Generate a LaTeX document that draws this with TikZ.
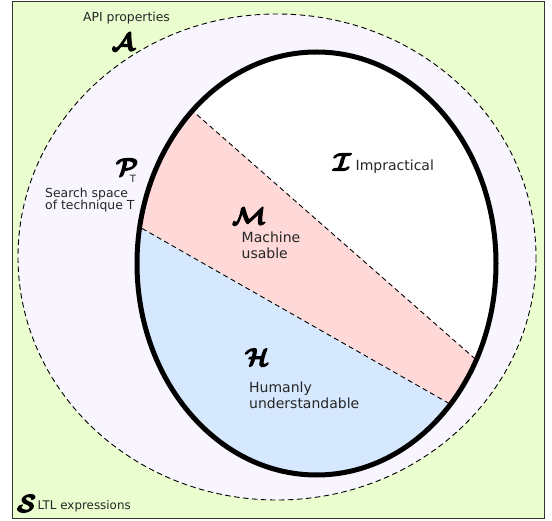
\documentclass[tikz,border=0pt]{standalone}
\usepackage{fontspec}
\usepackage{amsmath}
\usepackage{bm}
\usetikzlibrary{calc}
\setmainfont{DejaVu Sans}
\definecolor{spacegreen}{HTML}{E9FDCF}
\definecolor{apilav}{HTML}{F9F5FE}
\definecolor{machpink}{HTML}{FFD8D8}
\definecolor{humblue}{HTML}{D6E8FD}
\definecolor{framegray}{HTML}{333333}
% heavy brush-like set letters: calligraphic glyphs filled and stroked
\newcommand{\scr}[1]{\special{pdf:literal direct 2 Tr 1.1 w 1 j}\ensuremath{\bm{\mathcal{#1}}}\special{pdf:literal direct 0 Tr}}
\tikzset{
  biglbl/.style={font=\fontsize{14}{16}\selectfont, inner sep=0pt, anchor=base west, text=black!85},
  smalllbl/.style={font=\fontsize{12.4}{13}\selectfont, inner sep=0pt, anchor=base west, text=black!85},
  setsym/.style={font=\fontsize{24}{24}\selectfont, inner sep=0pt},
  divider/.style={draw=black, line width=0.9pt, dash pattern=on 5pt off 3.5pt},
}
\begin{document}
\begin{tikzpicture}[x=1pt, y=-1pt]
  \useasboundingbox (0,0) rectangle (552,521);
  % universe of LTL expressions
  \draw[framegray, fill=spacegreen, line width=1pt] (12.5,1.5) rectangle (544.5,518);
  % API properties
  \draw[fill=apilav, line width=0.9pt, dash pattern=on 5.5pt off 3.5pt]
    (277,257) ellipse [x radius=259, y radius=243];
  % search space of technique T, split into its three parts
  \fill[white] (316.5,263.5) ellipse [x radius=179.5, y radius=211.5];
  \begin{scope}
    \clip (316.5,263.5) ellipse [x radius=179.5, y radius=211.5];
    \coordinate (u1) at (195,113);
    \coordinate (u2) at (473,357);
    \coordinate (l1) at (143,229);
    \coordinate (l2) at (443,400);
    \fill[machpink] ($(u1)!-0.3!(u2)$) -- ($(u1)!1.3!(u2)$) -- ($(l1)!1.3!(l2)$) -- ($(l1)!-0.3!(l2)$) -- cycle;
    \fill[humblue] ($(l1)!-0.3!(l2)$) -- ($(l1)!1.3!(l2)$) -- (560,560) -- (60,560) -- cycle;
    \draw[divider] ($(u1)!-0.2!(u2)$) -- ($(u1)!1.2!(u2)$);
    \draw[divider] ($(l1)!-0.2!(l2)$) -- ($(l1)!1.2!(l2)$);
  \end{scope}
  \draw[line width=5pt] (316.5,263.5) ellipse [x radius=179.5, y radius=211.5];

  % labels
  \node[smalllbl, anchor=base] (apitxt) at (126.5,22) {API properties};
  \node[setsym] (symA) at (123,42) {\scr{A}};
  \node[setsym] (symP) at (127,167) {\scr{P}};
  \node[smalllbl, font=\fontsize{10}{12}\selectfont, anchor=center] (symPT) at (133,178.5) {T};
  \node[smalllbl] (search1) at (45,197.5) {Search space};
  \node[smalllbl] (search2) at (45,210) {of technique T};
  \node[setsym] (symI) at (342,162) {\scr{I}};
  \node[biglbl] (imptxt) at (355.5,171) {Impractical};
  \node[setsym] (symM) at (249,216) {\scr{M}};
  \node[biglbl] (mach1) at (241.5,243) {Machine};
  \node[biglbl] (mach2) at (241.5,259) {usable};
  \node[setsym] (symH) at (257,357) {\scr{H}};
  \node[biglbl] (hum1) at (249,393) {Humanly};
  \node[biglbl] (hum2) at (249,408.5) {understandable};
  \node[setsym] (symS) at (26.5,503.5) {\scr{S}};
  \node[smalllbl, font=\fontsize{11.9}{13}\selectfont] (ltltxt) at (37.5,509) {LTL expressions};
\end{tikzpicture}
\end{document}
